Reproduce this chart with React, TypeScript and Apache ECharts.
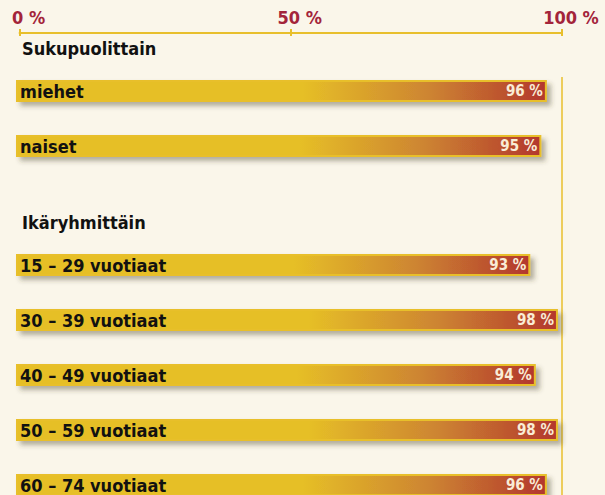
import React, { useEffect, useRef } from "react";
import * as echarts from "echarts";

const sectionTitles = ["Sukupuolittain", "Ikäryhmittäin"];
const genderCategories = ["miehet", "naiset"];
const genderValues = [96, 95];
const ageCategories = [
  "15 – 29 vuotiaat",
  "30 – 39 vuotiaat",
  "40 – 49 vuotiaat",
  "50 – 59 vuotiaat",
  "60 – 74 vuotiaat",
];
const ageValues = [93, 98, 94, 98, 96];
const rulerMin = 0;
const rulerMax = 100;
const rulerStep = 50;

const FONT = '"DejaVu Sans Condensed", "Liberation Sans Narrow", "Roboto", sans-serif';
const BG = "#faf6ea";
const YELLOW = "#e6bf27";
const RED = "#b3372d";
const AXIS_YELLOW = "#e8bf2c";
const CRIMSON = "#a3243a";

function barGradient() {
  return new echarts.graphic.LinearGradient(0, 0, 1, 0, [
    { offset: 0, color: YELLOW },
    { offset: 0.54, color: YELLOW },
    { offset: 0.78, color: "#cd8431" },
    { offset: 1, color: RED },
  ]);
}

function barSeries(vals: number[], gridIdx: number) {
  return [
    {
      type: "bar",
      xAxisIndex: gridIdx,
      yAxisIndex: gridIdx,
      data: vals,
      barWidth: 22,
      barGap: "-100%",
      itemStyle: {
        color: barGradient(),
        borderColor: AXIS_YELLOW,
        borderWidth: 2,
        shadowColor: "rgba(70,60,40,0.4)",
        shadowBlur: 5,
        shadowOffsetX: 4,
        shadowOffsetY: 4,
      },
      label: {
        show: true,
        position: "insideRight",
        distance: 4,
        formatter: "{c} %",
        color: "#f9ecd6",
        fontSize: 15,
        fontWeight: "bold",
        fontFamily: FONT,
      },
      z: 2,
    },
    {
      type: "bar",
      xAxisIndex: gridIdx,
      yAxisIndex: gridIdx,
      data: vals,
      barWidth: 22,
      barGap: "-100%",
      itemStyle: { color: "rgba(0,0,0,0)" },
      label: {
        show: true,
        position: "insideLeft",
        distance: 4,
        formatter: "{b}",
        color: "#111111",
        fontSize: 18,
        fontWeight: "bold",
        fontFamily: FONT,
      },
      silent: true,
      z: 3,
    },
  ];
}

export default function App() {
  const ref = useRef<HTMLDivElement>(null);
  useEffect(() => {
    if (!ref.current) return;
    const chart = echarts.init(ref.current, null, { renderer: "svg" });
    const valueAxis = (gridIndex: number) => ({
      type: "value",
      gridIndex,
      min: 0,
      max: 100,
      show: false,
    });
    const catAxis = (gridIndex: number, data: string[]) => ({
      type: "category",
      gridIndex,
      data,
      inverse: true,
      show: false,
    });
    chart.setOption({
      animation: false,
      backgroundColor: BG,
      grid: [
        { left: 16, right: 36, top: 63.5, height: 110 },
        { left: 16, right: 36, top: 237.5, height: 275 },
        { left: 16, right: 43, top: 32, height: 1 },
      ],
      xAxis: [
        valueAxis(0),
        valueAxis(1),
        {
          type: "value",
          gridIndex: 2,
          min: rulerMin,
          max: rulerMax,
          interval: rulerStep,
          position: "top",
          axisLine: { show: true, lineStyle: { color: AXIS_YELLOW, width: 2 } },
          axisTick: { show: true, length: 4, lineStyle: { color: AXIS_YELLOW, width: 2 } },
          splitLine: { show: false },
          axisLabel: {
            margin: 6,
            formatter: (v: number) => `{pad|}{n|${v}}{p| %}`,
            rich: {
              pad: { width: 18 },
              n: { color: CRIMSON, fontSize: 18, fontWeight: "bold", fontFamily: FONT },
              p: { color: CRIMSON, fontSize: 18, fontWeight: "bold", fontFamily: FONT },
            },
          },
        },
        {
          type: "value",
          gridIndex: 2,
          min: rulerMin,
          max: rulerMax,
          interval: rulerStep,
          position: "bottom",
          axisLine: { show: false },
          axisTick: { show: true, length: 3, lineStyle: { color: AXIS_YELLOW, width: 2 } },
          axisLabel: { show: false },
          splitLine: { show: false },
        },
      ],
      yAxis: [
        catAxis(0, genderCategories),
        catAxis(1, ageCategories),
        { type: "value", gridIndex: 2, show: false },
      ],
      series: [...barSeries(genderValues, 0), ...barSeries(ageValues, 1)],
      graphic: [
        {
          type: "text",
          left: 22,
          top: 39,
          style: { text: sectionTitles[0], fill: "#111111", fontSize: 18, fontWeight: "bold", fontFamily: FONT },
        },
        {
          type: "text",
          left: 22,
          top: 213,
          style: { text: sectionTitles[1], fill: "#111111", fontSize: 18, fontWeight: "bold", fontFamily: FONT },
        },
      ],
    });
    const x100 = chart.convertToPixel({ xAxisIndex: 2 }, rulerMax) as number;
    chart.setOption({
      graphic: [
        {},
        {},
        {
          type: "line",
          shape: { x1: x100, y1: 77, x2: x100, y2: 520 },
          style: { stroke: AXIS_YELLOW, lineWidth: 1.5 },
          z: 0,
        },
      ],
    });
    return () => chart.dispose();
  }, []);
  return (
    <div
      ref={ref}
      style={{ position: "fixed", left: 0, top: 0, width: 605, height: 520 }}
    />
  );
}
